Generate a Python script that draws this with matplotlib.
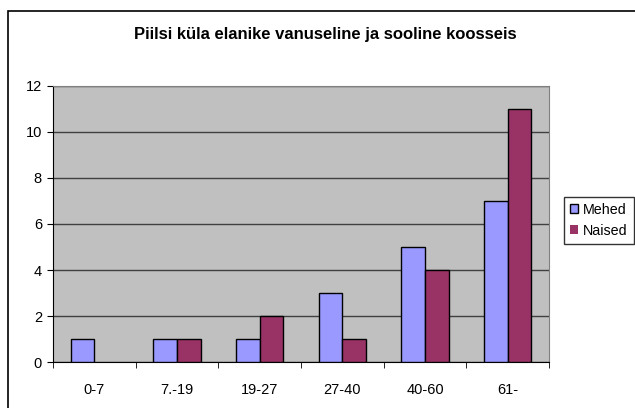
import numpy as np
import matplotlib.pyplot as plt
from matplotlib.patches import Rectangle

# Andmed
vanusegrupid = ['0-7', '7.-19', '19-27', '27-40', '40-60', '61-']
mehed = [1, 1, 1, 3, 5, 7]
naised = [0, 1, 2, 1, 4, 11]

plt.rcParams['font.family'] = ['Liberation Sans', 'DejaVu Sans']

W, H = 635, 408
fig = plt.figure(figsize=(W / 100, H / 100), dpi=100)
ax = fig.add_axes([53 / W, 1 - 362 / H, (549 - 53) / W, (362 - 86) / H])

# Diagrammi raam (ainult ülemine ja vasak serv on nähtav)
fig.patches.append(Rectangle((8 / W, -0.1), 1.2, (H - 11) / H + 0.1,
                             transform=fig.transFigure, fill=False,
                             edgecolor='black', linewidth=1.2))

x = np.arange(len(vanusegrupid))
laius = 1 / 3.5
# nullväärtusega tulpadel pole äärejoont
ax.bar(x - laius / 2, mehed, laius, color='#9999FF', edgecolor='black',
       linewidth=[1 if v > 0 else 0 for v in mehed], label='Mehed', zorder=3)
ax.bar(x + laius / 2, naised, laius, color='#993366', edgecolor='black',
       linewidth=[1 if v > 0 else 0 for v in naised], label='Naised', zorder=3)

ax.set_facecolor('#C0C0C0')
ax.set_xlim(-0.5, len(vanusegrupid) - 0.5)
ax.set_ylim(0, 12)
ax.set_yticks(range(0, 13, 2))
ax.yaxis.grid(True, color='#404040', linewidth=1, zorder=0)
ax.set_xticks(x)
ax.set_xticklabels(vanusegrupid)
ax.set_xticks(np.arange(-0.5, len(vanusegrupid), 1), minor=True)
ax.tick_params(axis='x', which='major', length=0, pad=15, labelsize=10.5)
ax.tick_params(axis='x', which='minor', length=4, direction='out')
ax.tick_params(axis='y', length=4, direction='out', labelsize=10.5, pad=4)
ax.spines['top'].set_color('#808080')
ax.spines['right'].set_color('#808080')
ax.spines['left'].set_color('black')
ax.spines['bottom'].set_color('black')

fig.text(325 / W, 1 - 35 / H,
         'Piilsi küla elanike vanuseline ja sooline koosseis',
         ha='center', va='center', fontsize=12, fontweight='bold')

leg = fig.legend(loc='upper left', bbox_to_anchor=(564 / W, 1 - 197 / H),
                 fontsize=10.3, frameon=True, fancybox=False,
                 handlelength=0.6, handleheight=0.6, handletextpad=0.35,
                 borderpad=0.4, labelspacing=0.5, borderaxespad=0)
leg.get_frame().set_edgecolor('black')
leg.get_frame().set_linewidth(1)

plt.savefig('out.png', dpi=100)
